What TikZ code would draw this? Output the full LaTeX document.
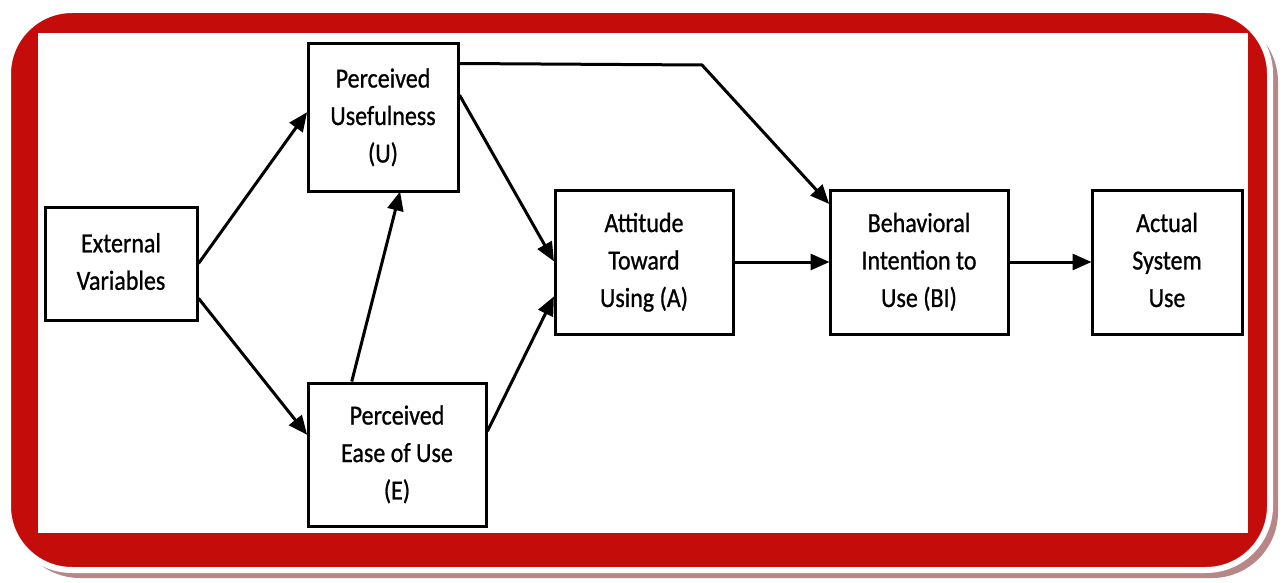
\documentclass[tikz,border=0pt]{standalone}
\usepackage{fontspec}
\setmainfont{Carlito}
\newfontfamily\boxfont{Carlito}[FakeBold=0.9]
\usetikzlibrary{arrows.meta,calc}
\definecolor{framered}{HTML}{C40D0B}
\definecolor{frameshadow}{HTML}{B78686}
% box labels: centred lines, drawn a little taller than wide
\newcommand\boxtext[1]{\scalebox{1}[1.15]{\begin{tabular}{@{}c@{}}#1\end{tabular}}}
\begin{document}
\begin{tikzpicture}[x=1pt,y=-1pt,
  box/.style={draw=black,line width=3pt,fill=white,align=center,
    inner sep=0pt,font=\boxfont\fontsize{24}{32.6}\selectfont},
  link/.style={draw=black,line width=3pt,
    -{Triangle[length=19pt,width=16pt]},shorten >=-1pt}]
\useasboundingbox (0,0) rectangle (1288,583);
% frame: soft shadow, white rim, red band, white panel
\fill[frameshadow,rounded corners=66pt] (14,16) rectangle (1278,578);
\draw[white,line width=6pt,fill=framered,rounded corners=64pt] (8,10) rectangle (1270,570);
\fill[white] (38,33) rectangle (1248,533);
% model boxes
\node[box,minimum width=152pt,minimum height=113pt] (ext) at (121,263.5) {\boxtext{External\\Variables}};
\node[box,minimum width=150pt,minimum height=147pt] (pu) at (383,117.5) {\boxtext{Perceived\\Usefulness\\(U)}};
\node[box,minimum width=178pt,minimum height=143pt] (peou) at (397,454.5) {\boxtext{Perceived\\Ease of Use\\(E)}};
\node[box,minimum width=178pt,minimum height=144pt] (att) at (644,262) {\boxtext{Attitude\\Toward\\Using (A)}};
\node[box,minimum width=178pt,minimum height=144pt] (bi) at (919,262) {\boxtext{Behavioral\\Intention to\\Use (BI)}};
\node[box,minimum width=150pt,minimum height=144pt] (use) at (1167,262) {\boxtext{Actual\\System\\Use}};
% connectors
\coordinate (ubend) at (702,65);
\draw[link] (ext.east) -- ($(pu.north west)!0.47!(pu.south west)$);
\draw[link] ($(ext.north east)!0.8!(ext.south east)$) -- ($(peou.north west)!0.36!(peou.south west)$);
\draw[link] ($(peou.north west)!0.25!(peou.north east)$) -- ($(pu.south west)!0.61!(pu.south east)$);
\draw[link] ($(pu.north east)!0.35!(pu.south east)$) -- ($(att.north west)!0.49!(att.south west)$);
\draw[link] ($(peou.north east)!0.34!(peou.south east)$) -- ($(att.north west)!0.74!(att.south west)$);
\draw[link] ($(pu.north east)!0.14!(pu.south east)$) -- (ubend) -- ($(bi.north west)!0.1!(bi.south west)$);
\draw[link] (att.east) -- (bi.west);
\draw[link] (bi.east) -- (use.west);
\end{tikzpicture}
\end{document}
